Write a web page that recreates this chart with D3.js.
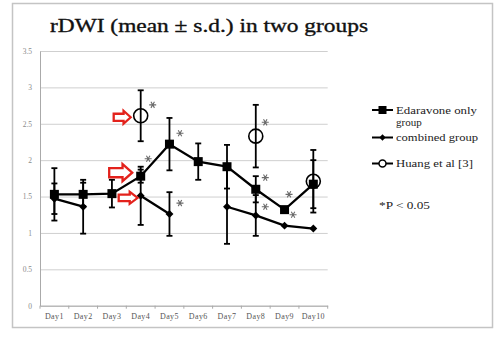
<!DOCTYPE html>
<html>
<head>
<meta charset="utf-8">
<script src="https://cdn.jsdelivr.net/npm/d3@7"></script>
<style>
  body { margin:0; background:#fff; }
  text { font-family:"Liberation Serif","DejaVu Serif",serif; }
</style>
</head>
<body>
<div id="vis-container"></div>
<script>
//data
let days = ["Day1","Day2","Day3","Day4","Day5","Day6","Day7","Day8","Day9","Day10"];
let edaMean = [1.53,1.53,1.54,1.78,2.22,1.98,1.91,1.60,1.32,1.67];
let edaSd   = [0.36,0.16,0.19,0.09,0.36,0.25,0.30,0.18,0,0.33];
let comMean = [1.47,1.36,null,1.51,1.26,null,1.36,1.24,1.10,1.06];
let comSd   = [0.21,0.37,null,0.40,0.30,null,0.51,0.28,0,0];
let huangDays = ["Day4","Day8","Day10"];
let huangMean = [2.61,2.33,1.71];
let huangSd   = [0.35,0.43,0.43];
let yTicks = [0,0.5,1,1.5,2,2.5,3,3.5];
//significance marks (*) : day and value where they sit
let starDays   = ["Day4","Day4","Day5","Day5","Day8","Day8","Day8","Day9","Day9"];
let starValues = [2.76,2.02,2.37,1.41,2.52,1.76,1.36,1.53,1.25];
let legendNames = ["Edaravone only group","combined group","Huang et al [3]"];

let W = 503, H = 353;
let margin = {top:51, left:40};
let width = 287.7, height = 254.7;

let svg = d3.select("#vis-container")
  .append("svg")
  .attr("width", W)
  .attr("height", H);

//outer frame
svg.append("rect")
  .attr("x", 12.5).attr("y", 3.5)
  .attr("width", 480).attr("height", 324)
  .attr("fill", "none")
  .attr("stroke", "#c4c4c4")
  .attr("stroke-width", 1.5);

//title
svg.append("text")
  .attr("x", 50).attr("y", 32)
  .attr("font-size", "19px")
  .attr("textLength", 318)
  .attr("lengthAdjust", "spacingAndGlyphs")
  .attr("fill", "#111")
  .attr("stroke", "#111")
  .attr("stroke-width", 0.35)
  .text("rDWI (mean \u00b1 s.d.) in two groups");

let g = svg.append("g")
  .attr("transform", `translate(${margin.left}, ${margin.top})`);

//scales
let x = d3.scaleBand().domain(days).range([0, width]);
let y = d3.scaleLinear().domain([0, 3.5]).range([height, 0]);
let cx = d => x(d) + x.bandwidth()/2;

//gridlines
g.append("g")
  .call(d3.axisLeft(y).tickValues(yTicks).tickSize(-width).tickFormat(""))
  .call(s => s.select(".domain").remove())
  .call(s => s.selectAll("line").attr("stroke", "#cfcfcf"));

//y axis
g.append("g")
  .call(d3.axisLeft(y).tickValues(yTicks).tickSize(0).tickPadding(8)
    .tickFormat(d => String(d)))
  .call(s => s.select(".domain").attr("stroke", "#aaa"))
  .call(s => s.selectAll("text")
    .attr("font-size", "7.5px")
    .attr("fill", "#8a8a8a")
    .attr("font-family", "'Liberation Serif',serif"));

//x axis
let xAxisGroup = g.append("g")
  .attr("transform", `translate(0,${height})`)
  .call(d3.axisBottom(x).tickSize(0).tickPadding(8))
  .call(s => s.select(".domain").attr("stroke", "#aaa"))
  .call(s => s.selectAll("text")
    .attr("font-size", "8px")
    .attr("letter-spacing", "0.4px")
    .attr("fill", "#555")
    .attr("font-family", "'Liberation Serif',serif"));

//tick marks between the categories
xAxisGroup.selectAll(".sep")
  .data(d3.range(days.length + 1))
  .enter().append("line")
  .attr("x1", i => i * x.step()).attr("x2", i => i * x.step())
  .attr("y1", 0).attr("y2", 3)
  .attr("stroke", "#aaa");

//build series
let eda = days.map((d,i) => ({day:d, m:edaMean[i], sd:edaSd[i]}));
let com = days.map((d,i) => ({day:d, m:comMean[i], sd:comSd[i]}));
let huang = huangDays.map((d,i) => ({day:d, m:huangMean[i], sd:huangSd[i]}));

function errorBars(data){
  let eb = g.append("g").selectAll("g")
    .data(data.filter(d => d.m != null && d.sd > 0))
    .enter().append("g")
    .attr("stroke", "#000")
    .attr("stroke-width", 1.8);
  eb.append("line")
    .attr("x1", d => cx(d.day)).attr("x2", d => cx(d.day))
    .attr("y1", d => y(d.m + d.sd)).attr("y2", d => y(d.m - d.sd));
  [1,-1].forEach(k => {
    eb.append("line")
      .attr("x1", d => cx(d.day) - 3).attr("x2", d => cx(d.day) + 3)
      .attr("y1", d => y(d.m + k*d.sd)).attr("y2", d => y(d.m + k*d.sd));
  });
}
errorBars(com);
errorBars(eda);
errorBars(huang);

let line = d3.line()
  .defined(d => d.m != null)
  .x(d => cx(d.day))
  .y(d => y(d.m));

g.append("path").datum(com)
  .attr("d", line).attr("fill", "none")
  .attr("stroke", "#000").attr("stroke-width", 2.3);
g.append("path").datum(eda)
  .attr("d", line).attr("fill", "none")
  .attr("stroke", "#000").attr("stroke-width", 2.3);

//markers
g.selectAll(".sq")
  .data(eda)
  .enter().append("rect")
  .attr("x", d => cx(d.day) - 4.5).attr("y", d => y(d.m) - 4.5)
  .attr("width", 9).attr("height", 9)
  .attr("fill", "#000");

g.selectAll(".dm")
  .data(com.filter(d => d.m != null))
  .enter().append("path")
  .attr("d", d3.symbol(d3.symbolDiamond2, 40))
  .attr("transform", d => `translate(${cx(d.day)},${y(d.m)})`)
  .attr("fill", "#000");

g.selectAll(".ci")
  .data(huang)
  .enter().append("circle")
  .attr("cx", d => cx(d.day)).attr("cy", d => y(d.m))
  .attr("r", 7)
  .attr("fill", "none")
  .attr("stroke", "#000")
  .attr("stroke-width", 1.6);

//asterisks
let starShift = [12,7.5,10.5,10.5,9.5,9.5,9.5,4.5,8.5];
g.selectAll(".star")
  .data(starDays)
  .enter().append("path")
  .attr("d", d3.symbol(d3.symbolAsterisk, 34))
  .attr("transform", (d,i) => `translate(${cx(d) + starShift[i]},${y(starValues[i])}) rotate(90)`)
  .attr("fill", "none")
  .attr("stroke", "#6a6a6a")
  .attr("stroke-width", 1.1);

//red arrows pointing at Day4
function arrowPath(L, h){
  let head = L * 0.42, s = h * 0.27;
  return `M0,0 L${-head},${-h/2} L${-head},${-s} L${-L},${-s} L${-L},${s} L${-head},${s} L${-head},${h/2} Z`;
}
let arrows = [
  {v:huang[0].m, gap:10, dy:1.5, L:17, h:13},
  {v:eda[3].m, gap:8.5, dy:-3.5, L:23, h:17},
  {v:com[3].m, gap:3, dy:2, L:19, h:12}
];
g.selectAll(".arrow")
  .data(arrows)
  .enter().append("path")
  .attr("d", d => arrowPath(d.L, d.h))
  .attr("transform", d => `translate(${cx("Day4") - d.gap},${y(d.v) + d.dy})`)
  .attr("fill", "#fff")
  .attr("stroke", "#e3221c")
  .attr("stroke-width", 2.3)
  .attr("stroke-linejoin", "miter");

//legend
let lg = svg.append("g").attr("transform", "translate(372,0)");
let legY = [110, 137.5, 163.5];
lg.selectAll(".ll")
  .data(legY)
  .enter().append("line")
  .attr("x1", 0).attr("x2", 21)
  .attr("y1", d => d).attr("y2", d => d)
  .attr("stroke", "#000").attr("stroke-width", 2);
lg.append("rect").attr("x", 6.5).attr("y", legY[0]-4).attr("width", 8).attr("height", 8).attr("fill", "#000");
lg.append("path").attr("d", d3.symbol(d3.symbolDiamond2, 25))
  .attr("transform", `translate(10.5,${legY[1]})`).attr("fill", "#000");
lg.append("circle").attr("cx", 10.5).attr("cy", legY[2]).attr("r", 3.5)
  .attr("fill", "#fff").attr("stroke", "#000").attr("stroke-width", 1.5);

let legText = lg.append("g")
  .attr("font-size", "11px")
  .attr("fill", "#222");
legText.append("text").attr("x", 24).attr("y", legY[0] + 3.5)
  .attr("textLength", 81).attr("lengthAdjust", "spacingAndGlyphs")
  .text(legendNames[0].replace(" group", ""));
legText.append("text").attr("x", 24).attr("y", legY[0] + 15.5).text("group");
legText.append("text").attr("x", 24).attr("y", legY[1] + 3.5)
  .attr("textLength", 82).attr("lengthAdjust", "spacingAndGlyphs")
  .text(legendNames[1]);
legText.append("text").attr("x", 24).attr("y", legY[2] + 3.5)
  .attr("textLength", 77).attr("lengthAdjust", "spacingAndGlyphs")
  .text(legendNames[2]);
legText.append("text").attr("x", 7).attr("y", 209)
  .attr("textLength", 51).attr("lengthAdjust", "spacingAndGlyphs")
  .text("*P < 0.05");
</script>
</body>
</html>
